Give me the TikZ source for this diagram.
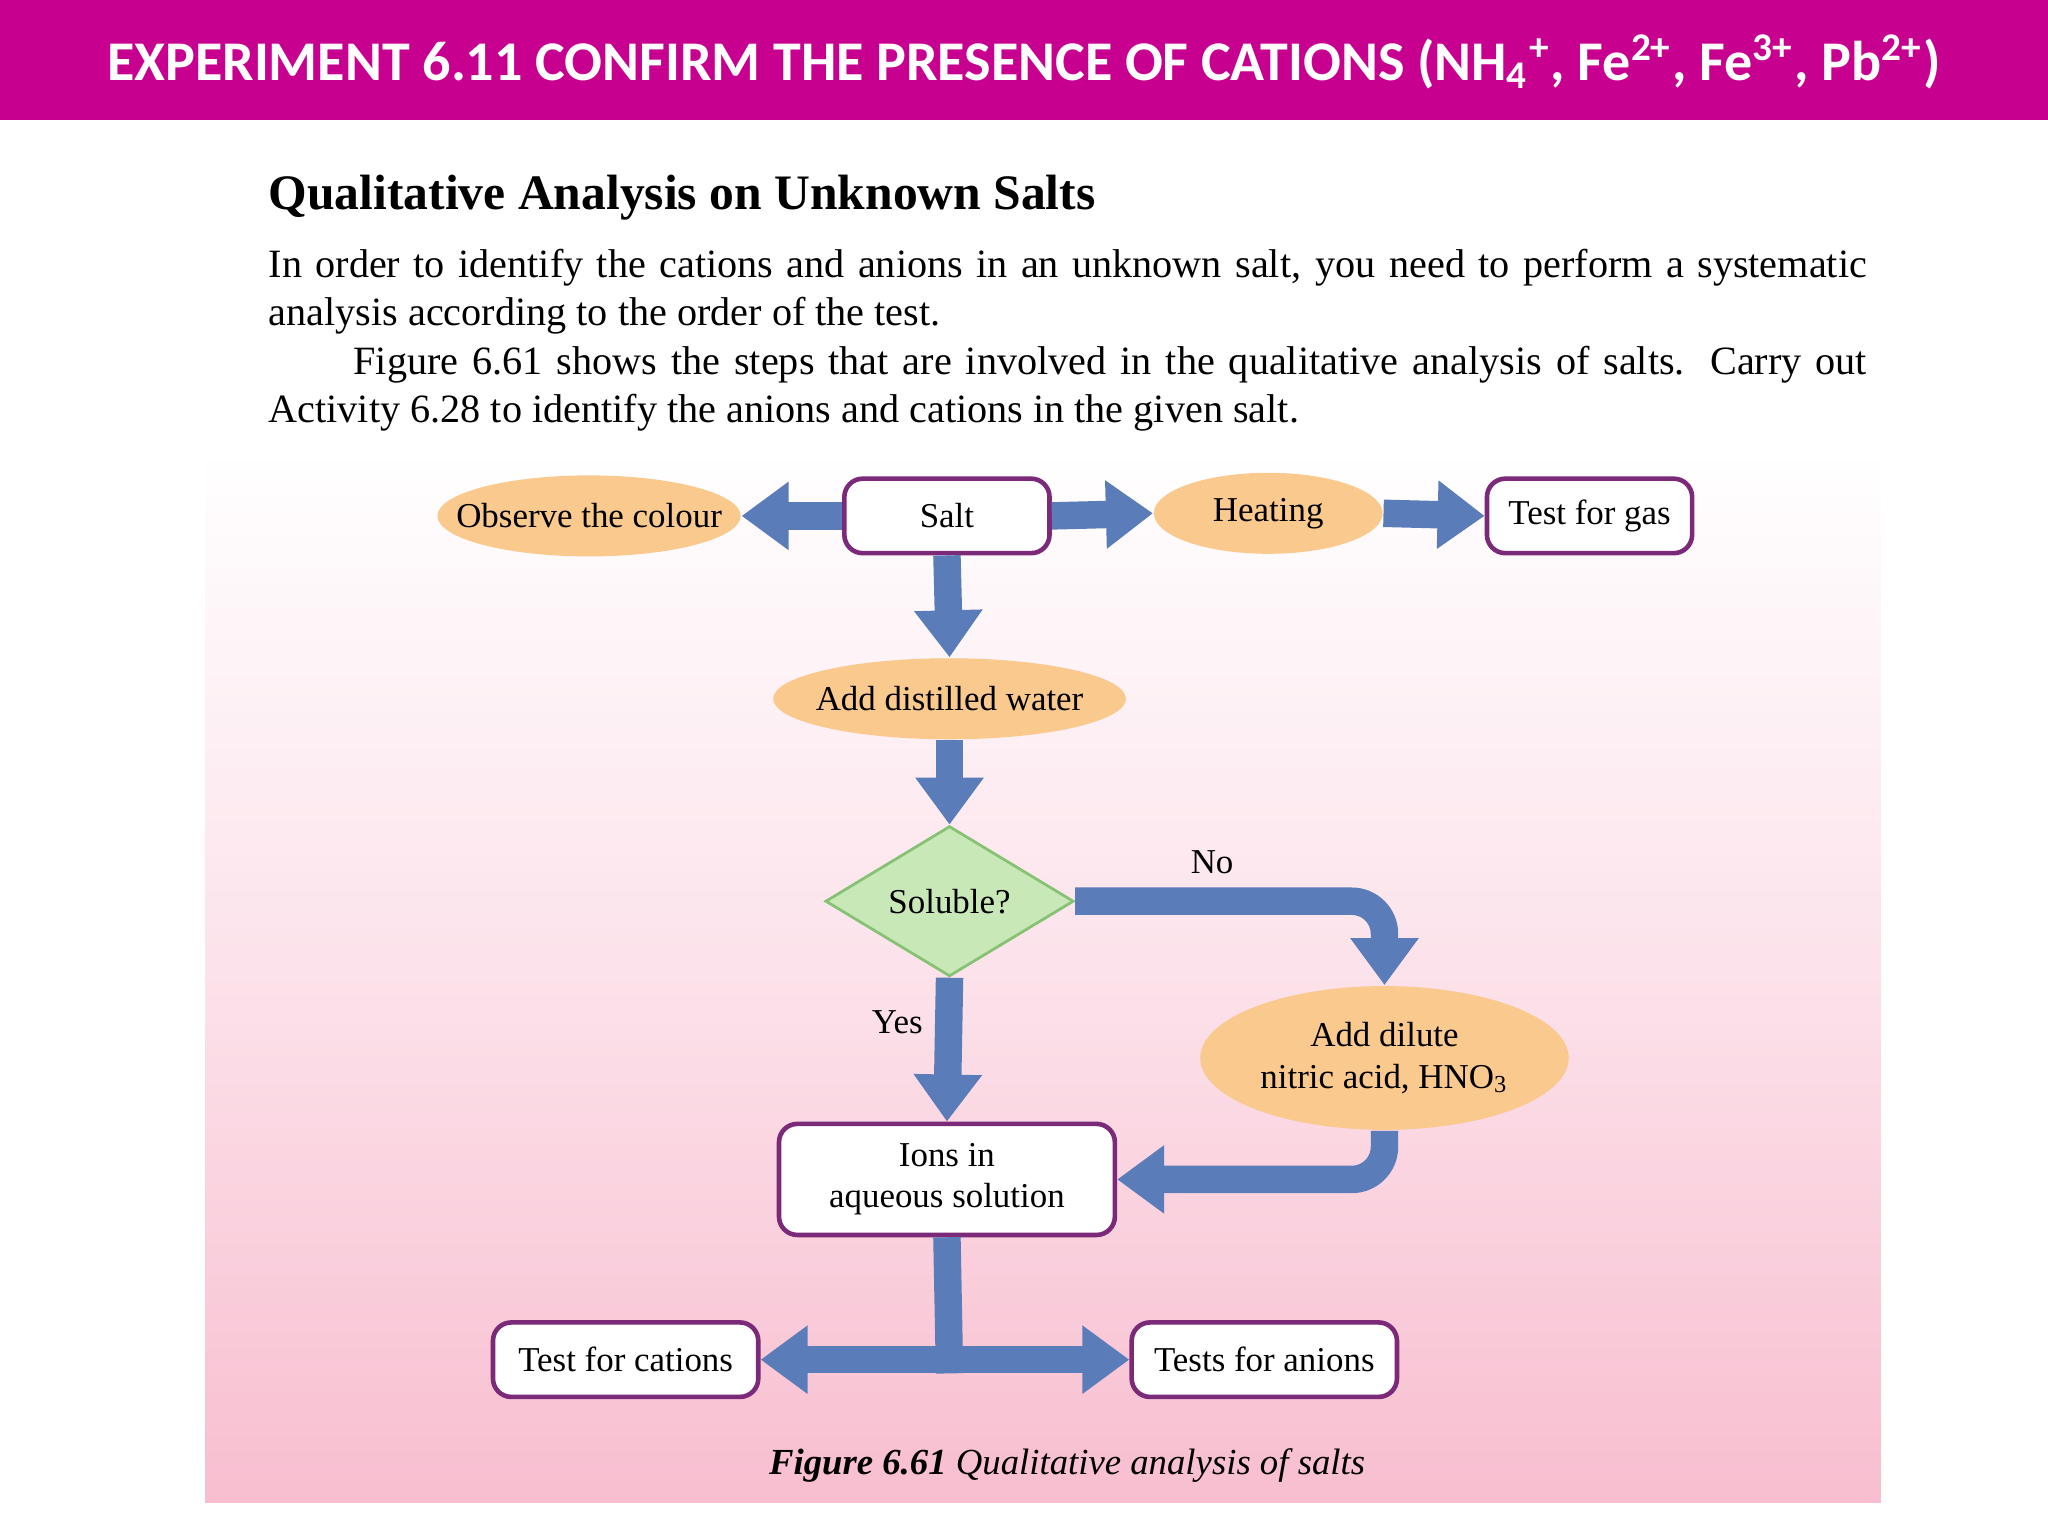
\documentclass[tikz,border=0pt]{standalone}
\usepackage{fontspec}
\setmainfont{Liberation Serif}
\newfontfamily\headfont{Carlito}
\usetikzlibrary{shapes.geometric,arrows.meta,positioning}
\definecolor{magbar}{HTML}{C8008F}
\definecolor{pinkbg}{HTML}{F8BED0}
\definecolor{orangefill}{HTML}{F9C98E}
\definecolor{boxline}{HTML}{7A2A78}
\definecolor{diafill}{HTML}{C9E8B8}
\definecolor{dialine}{HTML}{86C174}
\definecolor{arrowblue}{HTML}{5A7DB9}
\begin{document}
\begin{tikzpicture}[x=0.01cm,y=-0.01cm,
  oval/.style={ellipse,fill=orangefill,draw=none,inner xsep=-0.3cm,inner ysep=0pt,font=\fontsize{7.6}{9}\selectfont},
  box/.style={rectangle,rounded corners=4pt,draw=boxline,line width=1pt,fill=white,inner sep=0pt,font=\fontsize{7.6}{9}\selectfont,align=center},
  dia/.style={diamond,fill=diafill,draw=dialine,line width=0.6pt,inner sep=0pt,font=\fontsize{7.6}{9}\selectfont},
  big/.style={draw=arrowblue,line width=0.21cm,-{Triangle[width=0.5cm,length=0.36cm]},rounded corners=0.25cm},
  lbl/.style={font=\fontsize{7.6}{9}\selectfont}]
\useasboundingbox (0,0) rectangle (1568,1176);
% header bar
\fill[magbar] (0,0) rectangle (1568,92);
\node[text=white,font=\headfont\bfseries\fontsize{12.2}{14}\selectfont] (head) at (784,47)
  {EXPERIMENT 6.11 CONFIRM THE PRESENCE OF CATIONS (NH\textsubscript{4}\textsuperscript{+}, Fe\textsuperscript{2+}, Fe\textsuperscript{3+}, Pb\textsuperscript{2+})};
% figure background
\shade[top color=white,bottom color=pinkbg,middle color=pinkbg!45] (157,345) rectangle (1440,1150);
% text
\node[anchor=west,inner sep=0pt,font=\bfseries\fontsize{10.8}{12}\selectfont] (title) at (205,151) {Qualitative Analysis on Unknown Salts};
\begin{scope}[every node/.style={anchor=west,inner sep=0pt,font=\fontsize{8.75}{10}\selectfont}]
\node (l1) at (205,205) {\makebox[12.23cm][s]{In order to identify the cations and anions in an unknown salt, you need to perform a systematic}};
\node (l2) at (205,242) {analysis according to the order of the test.};
\node (l3) at (270,279) {\makebox[11.58cm][s]{Figure 6.61 shows the steps that are involved in the qualitative analysis of salts. Carry out}};
\node (l4) at (205,316) {Activity 6.28 to identify the anions and cations in the given salt.};
\end{scope}
% nodes
\node[oval,minimum width=2.32cm,minimum height=0.62cm] (obs) at (451,395) {Observe the colour};
\node[box,minimum width=1.57cm,minimum height=0.57cm] (salt) at (725,395) {Salt};
\node[oval,minimum width=1.75cm,minimum height=0.62cm] (heat) at (971,393) {Heating};
\node[box,minimum width=1.57cm,minimum height=0.57cm] (gas) at (1217,395) {Test for gas};
\node[oval,minimum width=2.7cm,minimum height=0.62cm] (water) at (727,535) {Add distilled water};
\node[dia,minimum width=1.9cm,minimum height=1.15cm] (sol) at (727,690) {Soluble?};
\node[oval,minimum width=2.82cm,minimum height=1.1cm,align=center] (acid) at (1060,810) {Add dilute\\nitric acid, HNO\textsubscript{3}};
\node[box,minimum width=2.57cm,minimum height=0.85cm] (ions) at (725,903) {Ions in\\aqueous solution};
\node[box,minimum width=2.03cm,minimum height=0.57cm] (cat) at (479,1041) {Test for cations};
\node[box,minimum width=2.03cm,minimum height=0.57cm] (an) at (968,1041) {Tests for anions};
\coordinate (split) at (727,1041);
% connectors
\draw[big] (salt.west) -- (obs.east);
\draw[big] (salt.east) -- (heat.west);
\draw[big] (heat.east) -- (gas.west);
\draw[big] (salt.south) -- (water.north);
\draw[big] (water.south) -- (sol.north);
\draw[big] (sol.east) -| (acid.north);
\draw[big] (sol.south) -- (ions.north);
\draw[big] (acid.south) |- (ions.east);
\draw[draw=arrowblue,line width=0.21cm] (ions.south) -- ([yshift=-0.105cm]split);
\draw[big,rounded corners=0pt] (split) -- (cat.east);
\draw[big,rounded corners=0pt] (split) -- (an.west);
\node[lbl] (no) at (928,660) {No};
\node[lbl] (yes) at (687,783) {Yes};
\node[font=\fontsize{8}{10}\selectfont] (cap) at (817,1122) {\textbf{\textit{Figure 6.61}} \textit{Qualitative analysis of salts}};
\end{tikzpicture}
\end{document}
